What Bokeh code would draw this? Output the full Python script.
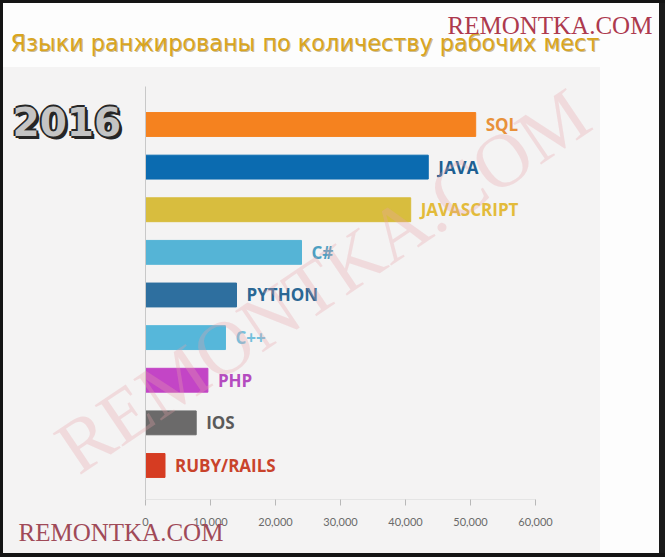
from bokeh.plotting import figure
from bokeh.models import (Range1d, ColumnDataSource, Label, Title, LinearAxis,
                          NumeralTickFormatter, FixedTicker)
from bokeh.core.properties import value
from bokeh.embed import file_html
from bokeh.resources import INLINE

# ---- data ----
languages = ["SQL", "JAVA", "JAVASCRIPT", "C#", "PYTHON", "C++", "PHP", "IOS", "RUBY/RAILS"]
jobs = [50800, 43500, 40800, 24000, 14000, 12300, 9600, 7800, 3000]
bar_colors = ["#f5821f", "#0b6bb0", "#d8bd3e", "#55b4d6", "#2e6f9f",
              "#56b7da", "#c345c6", "#6b6a6a", "#d63c22"]
label_colors = ["#e8913a", "#1d5f92", "#e3bb3a", "#4d9fc2", "#2a6794",
                "#74c0dc", "#b44cbf", "#5a5a5a", "#c9432b"]
tick_values = [0, 10000, 20000, 30000, 40000, 50000, 60000]
title_text = "Языки ранжированы по количеству рабочих мест"
year_text = "2016"
watermark_text = "REMONTKA.COM"

W, H = 665, 557
FB = 499  # frame bottom, canvas px from top


def fy(yc):
    return FB - yc


n = len(languages)
rank = [n - 1 - i for i in range(n)]  # top-to-bottom ordering
src = ColumnDataSource(dict(lang=languages, jobs=jobs, rank=rank,
                            color=bar_colors, lcolor=label_colors))

p = figure(width=W, height=H,
           x_range=Range1d(-22308, 80000), y_range=Range1d(-0.798, 10.909),
           output_backend="svg", toolbar_location=None,
           x_axis_location=None, y_axis_location=None,
           min_border_left=0, min_border_right=0, min_border_top=0, min_border_bottom=58)

p.background_fill_color = None
p.border_fill_color = None
p.outline_line_color = None
p.grid.visible = False
p.styles = {
    "background-color": "#fdfdfd",
    "background-image": "linear-gradient(#f4f3f3, #f4f3f3)",
    "background-size": "600px 487px",
    "background-position": "0px 67px",
    "background-repeat": "no-repeat",
    "box-shadow": ("inset 0 3px 0 #141414, inset 3px 0 0 #141414, "
                   "inset 0 -4px 0 #141414, inset -6px 0 0 #1a1a1a"),
}

# x axis
ax = LinearAxis(ticker=FixedTicker(ticks=tick_values), formatter=NumeralTickFormatter(format="0,0"),
                bounds=(0, 60000))
ax.axis_line_color = "#e4e4e4"
ax.major_tick_line_color = "#b8b8b8"
ax.major_tick_in = 0
ax.major_tick_out = 6
ax.minor_tick_line_color = None
ax.major_label_standoff = 12
ax.major_label_text_font = "Lato"
ax.major_label_text_font_size = "11px"
ax.major_label_text_color = "#6a6a6a"
p.add_layout(ax, "below")

# vertical baseline (y axis line at x = 0)
yax = LinearAxis(ticker=FixedTicker(ticks=[]), fixed_location=0, bounds=(-0.8, 8.9))
yax.axis_line_color = "#c8c8c8"
yax.major_tick_line_color = None
yax.minor_tick_line_color = None
yax.major_tick_out = 0
yax.major_label_standoff = 0
p.add_layout(yax, "left")

# bars and labels
p.hbar(y="rank", left=0, right="jobs", height=0.56, color="color", source=src)
p.text(x="jobs", y="rank", text="lang", x_offset=10, text_baseline="middle",
       text_font=value("Open Sans"), text_font_style="bold", text_font_size="17px",
       text_color="lcolor", source=src)

# title
p.add_layout(Label(x=11, y=fy(43), x_units="screen", y_units="screen", text=title_text,
                   text_baseline="middle", text_font="DejaVu Sans", text_font_size="22.4px",
                   text_color="#8a6a14", text_alpha=0.45))
p.add_layout(Label(x=10, y=fy(42), x_units="screen", y_units="screen", text=title_text,
                   text_baseline="middle", text_font="DejaVu Sans", text_font_size="22.4px",
                   text_color="#d9a51f"))

# year badge
for dx, dy in [(-2, 0), (2, 0), (0, -2), (0, 2), (2, -2), (3, -3)]:
    p.add_layout(Label(x=12 + dx, y=fy(121) + dy, x_units="screen", y_units="screen",
                       text=year_text, text_baseline="middle", text_font="DejaVu Sans",
                       text_font_style="bold", text_font_size="39px", text_color="#262626"))
p.add_layout(Label(x=12, y=fy(121), x_units="screen", y_units="screen", text=year_text,
                   text_baseline="middle", text_font="DejaVu Sans", text_font_style="bold",
                   text_font_size="39px", text_color="#c4c4c4"))

# watermarks
p.add_layout(Label(x=322, y=fy(280), x_units="screen", y_units="screen", text=watermark_text,
                   text_align="center", text_baseline="middle", angle=0.593,
                   text_font="Liberation Serif", text_font_size="76px",
                   text_color="#e9a3a9", text_alpha=0.3))
p.add_layout(Label(x=447, y=fy(25), x_units="screen", y_units="screen", text=watermark_text,
                   text_baseline="middle", text_font="Liberation Serif", text_font_size="25px",
                   text_color="#ad3a4e"))
p.add_layout(Title(text=watermark_text, align="left", offset=18, standoff=-24,
                   text_font="Liberation Serif", text_font_size="25px", text_font_style="normal",
                   text_color="#a04a58"), "below")

open("out.html", "w").write(file_html(p, INLINE))
